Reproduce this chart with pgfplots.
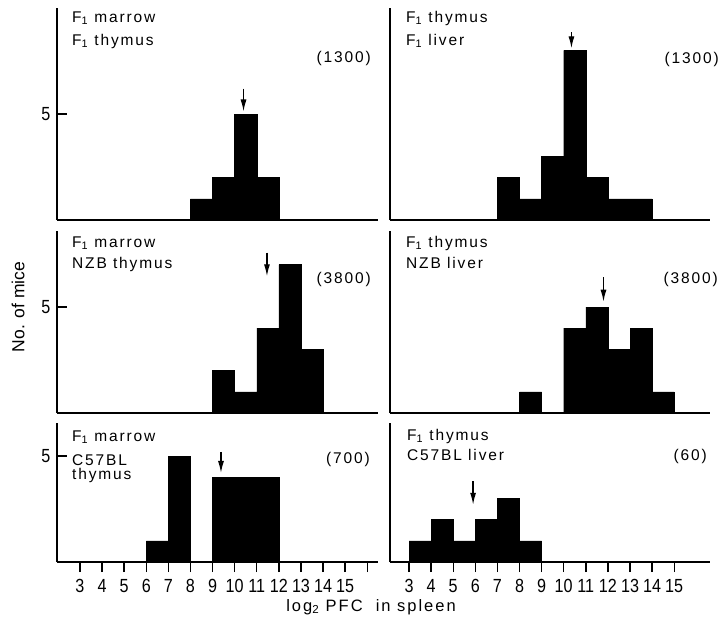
\documentclass[border=0pt]{standalone}
\usepackage{pgfplots}
\pgfplotsset{compat=1.18}
\usepackage{fontspec}
\setmainfont{Liberation Sans}
\newfontfamily\lab[LetterSpace=12]{Liberation Sans}
\newfontfamily\tk[FakeStretch=0.85]{Liberation Sans}
\usetikzlibrary{arrows.meta}
\pgfplotsset{
 panel/.style={
  x=22.1pt, y=21.2pt, axis lines=left, axis line style={-, line width=1.7pt},
  clip=false, ymin=0, xtick=\empty, ytick=\empty, tick align=outside,
  major tick length=10pt, tick style={line width=1.4pt, black},
  /pgf/number format/assume math mode=true,
  tick label style={font=\tk\fontsize{19}{22}\selectfont},
  anchor=south west,
 },
 lefty/.style={ytick={5}, ytick style={xshift=10pt}, yticklabel style={xshift=7pt}},
 bars/.style={fill=black, draw=black, line width=0.4pt, const plot mark left},
 arr/.style={-{Latex[length=12pt,width=6pt]}, line width=1.3pt, black},
}
\newcommand{\pl}{\lab\fontsize{15.5}{18}\selectfont}
\begin{document}
\begin{tikzpicture}
\path[use as bounding box] (0pt,0pt) rectangle (722pt,-622pt);
% top row
\begin{axis}[panel, lefty, at={(57pt,-220pt)}, xmin=1.96, xmax=16.5, ymax=10.0]
\addplot[bars] coordinates {(8,1) (9,2) (10,5) (11,2) (12,0)} \closedcycle;
\addplot[arr] coordinates {(10.4,6.2) (10.4,5.12)};
\end{axis}
\begin{axis}[panel, at={(390pt,-220pt)}, xmin=2.14, xmax=16.6, ymax=10.0]
\addplot[bars] coordinates {(7,2) (8,1) (9,3) (10,8) (11,2) (12,1) (13,1) (14,0)} \closedcycle;
\addplot[arr] coordinates {(10.35,8.85) (10.35,8.1)};
\end{axis}
% middle row
\begin{axis}[panel, lefty, at={(57pt,-413pt)}, xmin=1.96, xmax=16.5, ymax=8.58]
\addplot[bars] coordinates {(9,2) (10,1) (11,4) (12,7) (13,3) (14,0)} \closedcycle;
\addplot[arr] coordinates {(11.46,7.56) (11.46,6.45)};
\end{axis}
\begin{axis}[panel, at={(390pt,-413pt)}, xmin=2.14, xmax=16.6, ymax=8.58]
\addplot[bars] coordinates {(8,1) (9,0) (10,4) (11,5) (12,3) (13,4) (14,1) (15,0)} \closedcycle;
\addplot[arr] coordinates {(11.8,6.4) (11.8,5.25)};
\end{axis}
% bottom row
\begin{axis}[panel, lefty, at={(57pt,-562pt)}, xmin=1.96, xmax=16.5, ymax=6.56,
  xtick={3,4,5,6,7,8,9,10,11,12,13,14,15,16},
  xticklabels={3,4,5,6,7,8,9,10,11,12,13,14,15,{}},
  xticklabel style={yshift=-4pt}]
\addplot[bars] coordinates {(6,1) (7,5) (8,0) (9,4) (12,0)} \closedcycle;
\addplot[arr] coordinates {(9.38,5.2) (9.38,4.2)};
\end{axis}
\begin{axis}[panel, at={(390pt,-562pt)}, xmin=2.14, xmax=16.6, ymax=6.56,
  xtick={3,4,5,6,7,8,9,10,11,12,13,14,15},
  xticklabel style={yshift=-4pt}]
\addplot[bars] coordinates {(3,1) (4,2) (5,1) (6,2) (7,3) (8,1) (9,0)} \closedcycle;
\addplot[arr] coordinates {(5.9,3.8) (5.9,2.7)};
\end{axis}
% panel labels
\node[anchor=base west, inner sep=0pt] at (72pt,-22pt) {\pl F\textsubscript{1} marrow};
\node[anchor=base west, inner sep=0pt] at (72pt,-45pt) {\pl F\textsubscript{1} thymus};
\node[anchor=base east, inner sep=0pt] at (371pt,-62pt) {\pl (1300)};
\node[anchor=base west, inner sep=0pt] at (406pt,-22pt) {\pl F\textsubscript{1} thymus};
\node[anchor=base west, inner sep=0pt] at (406pt,-45pt) {\pl F\textsubscript{1} liver};
\node[anchor=base east, inner sep=0pt] at (719pt,-63pt) {\pl (1300)};
\node[anchor=base west, inner sep=0pt] at (72pt,-247pt) {\pl F\textsubscript{1} marrow};
\node[anchor=base west, inner sep=0pt] at (72pt,-268pt) {\pl NZB thymus};
\node[anchor=base east, inner sep=0pt] at (371pt,-283pt) {\pl (3800)};
\node[anchor=base west, inner sep=0pt] at (406pt,-247pt) {\pl F\textsubscript{1} thymus};
\node[anchor=base west, inner sep=0pt] at (406pt,-268pt) {\pl NZB liver};
\node[anchor=base east, inner sep=0pt] at (718pt,-283pt) {\pl (3800)};
\node[anchor=base west, inner sep=0pt] at (72pt,-441pt) {\pl F\textsubscript{1} marrow};
\node[anchor=base west, inner sep=0pt] at (72pt,-465pt) {\pl C57BL};
\node[anchor=base west, inner sep=0pt] at (72pt,-479pt) {\pl thymus};
\node[anchor=base east, inner sep=0pt] at (370pt,-463pt) {\pl (700)};
\node[anchor=base west, inner sep=0pt] at (407pt,-440pt) {\pl F\textsubscript{1} thymus};
\node[anchor=base west, inner sep=0pt] at (407pt,-460pt) {\pl C57BL liver};
\node[anchor=base east, inner sep=0pt] at (707pt,-460pt) {\pl (60)};
% axis labels
\node[rotate=90, inner sep=0pt] at (18pt,-307pt) {\fontsize{17.5}{20}\selectfont No. of mice};
\node[anchor=base, inner sep=0pt] at (371pt,-611pt) {\lab\fontsize{16.5}{20}\selectfont log\textsubscript{2} PFC\ \ in spleen};
\end{tikzpicture}
\end{document}
